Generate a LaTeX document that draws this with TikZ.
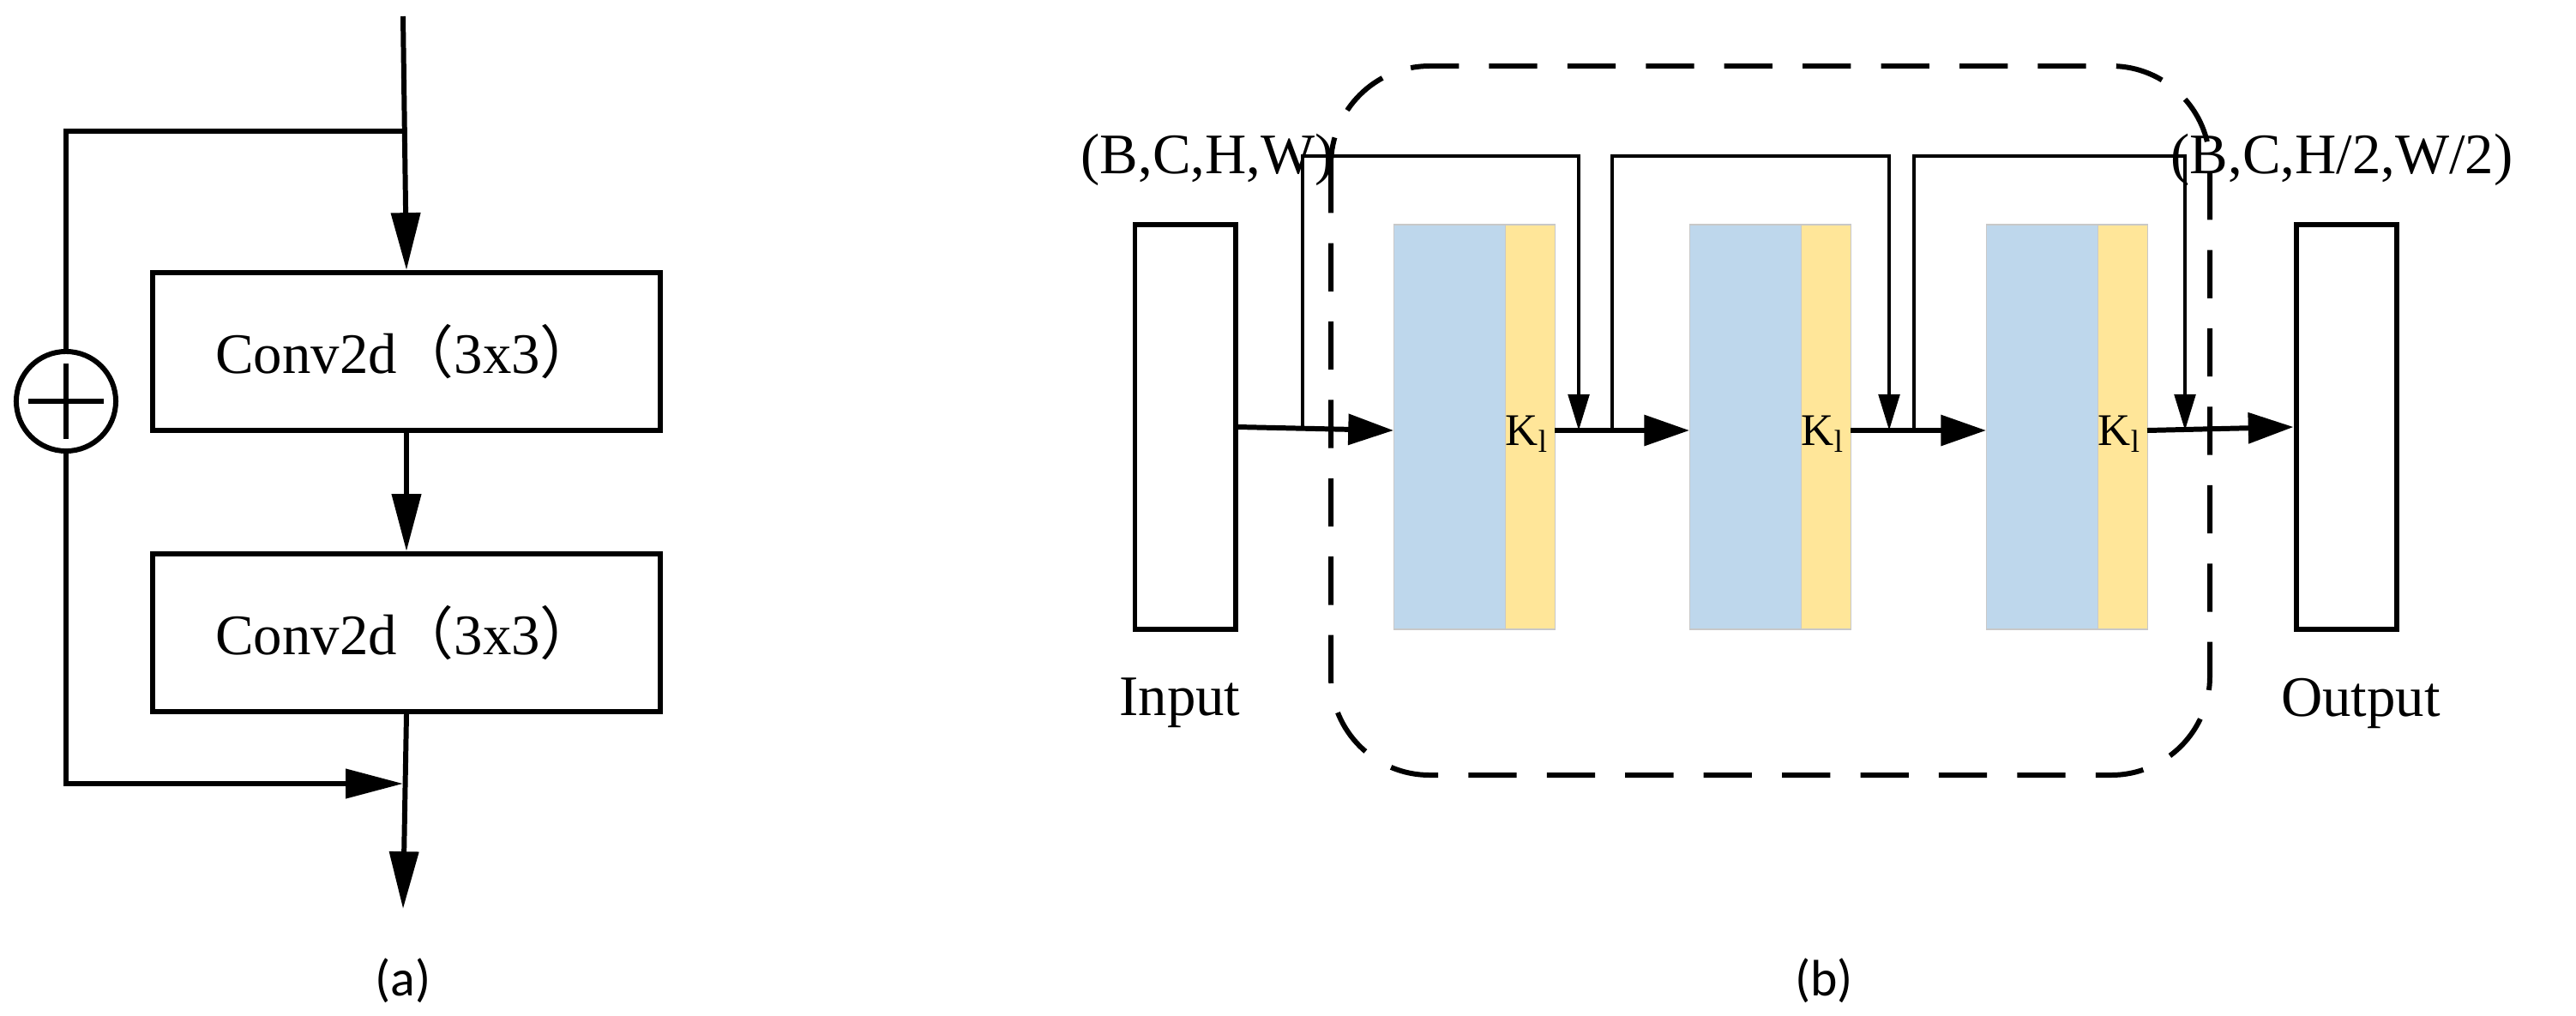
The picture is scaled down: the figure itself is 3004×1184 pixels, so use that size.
\documentclass[tikz,border=0pt]{standalone}
\usepackage{fontspec}
\setmainfont{Liberation Serif}
\newfontfamily\cjk{Noto Sans CJK SC}
\newfontfamily\capfont{Carlito}
\usetikzlibrary{arrows.meta}
\begin{document}
\begin{tikzpicture}[x=0.01cm,y=-0.01cm,
  ln/.style={line width=1.7pt},
  thin/.style={line width=1.1pt},
  bigarr/.style={-{Triangle[length=19pt,width=9.5pt]}},
  marr/.style={-{Triangle[length=15pt,width=10pt]}},
  larr/.style={-{Triangle[length=12pt,width=7pt]}},
  box/.style={draw,line width=1.7pt,minimum width=5.92cm,minimum height=1.84cm,font=\fontsize{19pt}{22pt}\selectfont},
  io/.style={draw,line width=1.7pt,minimum width=1.17cm,minimum height=4.72cm},
  lbl/.style={font=\fontsize{19pt}{22pt}\selectfont},
  blue/.style={fill=blue!10!cyan!15!white,fill={rgb,255:red,190;green,215;blue,236},draw={rgb,255:red,200;green,200;blue,200},line width=0.3pt},
  yel/.style={fill={rgb,255:red,255;green,230;blue,153},draw={rgb,255:red,200;green,200;blue,200},line width=0.3pt}]
\useasboundingbox (0,0) rectangle (3004,1184);
% ---- (a)
\coordinate (top) at (470,19);
\coordinate (br) at (470,153);
\coordinate (bl) at (77,153);
\node[box] (c1) at (474,410) {Conv2d{\cjk （}3x3{\cjk ）}};
\node[box] (c2) at (474,738) {Conv2d{\cjk （}3x3{\cjk ）}};
\node[circle,draw,line width=1.7pt,minimum size=1.16cm,inner sep=0] (plus) at (77,468) {};
\draw[line width=1.7pt] (33,468) -- (121,468) (77,424) -- (77,512);
\coordinate (lb) at (77,914);
\coordinate (jn) at (470,914);
\coordinate (out) at (470,1060);
\draw[ln,bigarr] (top) -- (c1.north);
\draw[ln] (br) -- (bl) -- (plus.north);
\draw[ln,bigarr] (c1.south) -- (c2.north);
\draw[ln,bigarr] (plus.south) -- (lb) -- (jn);
\draw[ln,bigarr] (c2.south) -- (out);
\node[font=\capfont\fontsize{17pt}{20pt}\selectfont] (la) at (470,1144) {(a)};
% ---- (b)
\node[io] (in) at (1382,498) {};
\node[io] (outb) at (2736,498) {};
\node[lbl] (tin) at (1376,820) {Input};
\node[lbl] (tout) at (2753,820) {Output};
\node[lbl] (s1) at (1408,186) {(B,C,H,W)};
\node[lbl] (s2) at (2731,186) {(B,C,H/2,W/2)};
\draw[line width=1.7pt,dash pattern=on 16pt off 10pt,rounded corners=1.15cm] (1552,77) rectangle (2577,904);
\foreach \i/\x in {1/1625,2/1970,3/2316}{
  \path[blue] (\x,262) rectangle ++(130,472);
  \path[yel] (\x+130,262) rectangle ++(58,472);
  \node[inner sep=0,anchor=west,font=\fontsize{15pt}{17pt}\selectfont] (k\i) at (\x+130,506) {K\textsubscript{l}};
  \coordinate (bl\i) at (\x,502);
  \coordinate (br\i) at (\x+188,502);
}
\coordinate (o1) at (1519,502);
\coordinate (t1) at (1841,502);
\coordinate (o2) at (1880,502);
\coordinate (t2) at (2203,502);
\coordinate (o3) at (2232,502);
\coordinate (t3) at (2548,502);
\draw[ln,marr] (in.east) -- (bl1);
\draw[ln,marr] (br1) -- (bl2);
\draw[ln,marr] (br2) -- (bl3);
\draw[ln,marr] (br3) -- (outb.west);
\draw[thin,larr] (o1) -- (1519,182) -- (1841,182) -- (t1);
\draw[thin,larr] (o2) -- (1880,182) -- (2203,182) -- (t2);
\draw[thin,larr] (o3) -- (2232,182) -- (2548,182) -- (t3);
\node[font=\capfont\fontsize{17pt}{20pt}\selectfont] (lb2) at (2127,1144) {(b)};
\end{tikzpicture}
\end{document}
